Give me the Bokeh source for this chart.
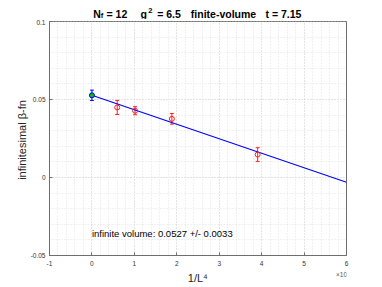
from bokeh.plotting import figure
from bokeh.layouts import column
from bokeh.models import (ColumnDataSource, Whisker, TeeHead, Label, LinearAxis,
                          Range1d, FixedTicker)
from bokeh.embed import file_html
from bokeh.resources import INLINE

# ---- data (x in units of 1e-7, i.e. 1/L^4 * 1e7) ----
fv_x = [0.596, 1.017, 1.884, 3.906]          # L = 64, 56, 48, 40
fv_beta = [0.0449, 0.0428, 0.0376, 0.0147]
fv_err = [0.0045, 0.0026, 0.0034, 0.0044]
inf_x = [0.0]
inf_beta = [0.0527]
inf_err = [0.0033]
fit_x = [0.0, 6.0]
fit_beta = [0.0527, -0.0030]
x_ticks = [-1, 0, 1, 2, 3, 4, 5, 6]
x_tick_labels = ["-1", "0", "1", "2", "3", "4", "5", "6"]
y_ticks = [-0.05, 0.0, 0.05, 0.1]
y_tick_labels = ["-0.05", "0", "0.05", "0.1"]
annot_text = "infinite volume: 0.0527 +/- 0.0033"
x_label = "1/L\u2074"
x_mult = "\u00d710\u207b\u2077"

FONT = "Liberation Sans"
W = 382
TH = 19          # title strip
BH = 19          # bottom strip (x label + multiplier)
H = 287 - TH - BH
FL, FR, FT, FB = 49, 36, 2, 13


def strip(height):
    s = figure(width=W, height=height, output_backend="svg",
               toolbar_location=None, x_range=Range1d(0, 1),
               y_range=Range1d(0, 1), min_border_left=FL, min_border_right=FR,
               min_border_top=0, min_border_bottom=0,
               x_axis_location=None, y_axis_location=None)
    s.title.visible = False
    s.outline_line_color = None
    s.xgrid.visible = False
    s.ygrid.visible = False
    return s


# ---------------- title strip (x relative to plot frame left) ----------------
t = strip(TH)
title_parts = [
    ("N", 43.7, 5.5, "10.5px"),
    ("f", 51.3, 4.0, "7.5px"),
    ("= 12", 57.0, 5.5, "10.5px"),
    ("g", 91.0, 5.5, "10.5px"),
    ("2", 98.7, 9.2, "7.5px"),
    ("= 6.5", 107.7, 5.5, "10.5px"),
    ("finite-volume", 141.3, 5.5, "10.5px"),
    ("t = 7.15", 216.0, 5.5, "10.5px"),
]
for txt, tx, ty, fs in title_parts:
    t.add_layout(Label(x=tx, y=ty, x_units="screen", y_units="screen",
                       text=txt, text_font=FONT, text_font_size=fs,
                       text_font_style="bold", text_color="black",
                       text_baseline="alphabetic", text_align="left"))

# ---------------- main plot ----------------
p = figure(width=W, height=H, output_backend="svg", toolbar_location=None,
           x_range=Range1d(-1, 6), y_range=Range1d(-0.05, 0.1),
           min_border_left=FL, min_border_right=FR, min_border_top=FT,
           min_border_bottom=FB, x_axis_location=None, y_axis_location=None)
p.title.visible = False
p.outline_line_color = "#6e6e6e"
p.background_fill_color = "white"

x_minor = [-1 + 0.2 * i for i in range(36)]
y_minor = [-0.05 + 0.01 * i for i in range(16)]
xt = FixedTicker(ticks=x_ticks, minor_ticks=x_minor)
yt = FixedTicker(ticks=y_ticks, minor_ticks=y_minor)

AX_COL = "#6e6e6e"
TICK_COL = "#333333"


def make_axis(ticker, labels, ticks):
    ax = LinearAxis(ticker=ticker)
    ax.axis_line_color = AX_COL
    ax.major_tick_line_color = AX_COL
    ax.major_tick_in = 3
    ax.major_tick_out = 0
    ax.minor_tick_line_color = None
    ax.major_label_overrides = {t: l for t, l in zip(ticks, labels)}
    ax.major_label_text_font = FONT
    ax.major_label_text_color = TICK_COL
    ax.major_label_text_font_size = "6.5px"
    ax.major_label_standoff = 0
    return ax


xb = make_axis(xt, x_tick_labels, x_ticks)
xb.major_label_standoff = 1
p.add_layout(xb, "below")

yl = make_axis(yt, y_tick_labels, y_ticks)
yl.axis_label = "infinitesimal  \u03b2-fn"
yl.axis_label_text_font = FONT
yl.axis_label_text_font_size = "11px"
yl.axis_label_text_font_style = "normal"
yl.axis_label_text_color = "#262626"
yl.axis_label_standoff = 0
p.add_layout(yl, "left")

# grids
p.xgrid.ticker = xt
p.ygrid.ticker = yt
for g in (p.xgrid[0], p.ygrid[0]):
    g.grid_line_color = "#d4d4d4"
    g.grid_line_dash = "1 2"
    g.minor_grid_line_color = "#e2e2e2"
    g.minor_grid_line_dash = "1 2"

# fit line
p.line(fit_x, fit_beta, line_color="#0000ff", line_width=1.1)

# finite-volume points
fv = ColumnDataSource(dict(x=fv_x, y=fv_beta,
                           lo=[b - e for b, e in zip(fv_beta, fv_err)],
                           hi=[b + e for b, e in zip(fv_beta, fv_err)]))
p.add_layout(Whisker(source=fv, base="x", lower="lo", upper="hi",
                     line_color="#ff2020", line_width=1,
                     lower_head=TeeHead(size=4, line_color="#ff2020"),
                     upper_head=TeeHead(size=4, line_color="#ff2020")))
p.scatter("x", "y", source=fv, size=5, marker="circle", fill_color=None,
          line_color="#ff2020", line_width=1)

# infinite-volume point
iv = ColumnDataSource(dict(x=inf_x, y=inf_beta,
                           lo=[b - e for b, e in zip(inf_beta, inf_err)],
                           hi=[b + e for b, e in zip(inf_beta, inf_err)]))
p.add_layout(Whisker(source=iv, base="x", lower="lo", upper="hi",
                     line_color="#0000ff", line_width=1,
                     lower_head=TeeHead(size=4, line_color="#0000ff"),
                     upper_head=TeeHead(size=4, line_color="#0000ff")))
p.scatter("x", "y", source=iv, size=5, marker="circle", fill_color="#00c000",
          line_color="#0000ff", line_width=1)

# annotation text in data coordinates
p.add_layout(Label(x=0.0, y=-0.0359, text=annot_text, text_font=FONT,
                   text_font_size="9.5px", text_color="black",
                   text_baseline="middle", text_align="left"))

# ---------------- bottom strip: x-axis label and multiplier ----------------
b = strip(BH)
b.add_layout(Label(x=148.3, y=10, x_units="screen", y_units="screen",
                   text=x_label, text_font=FONT, text_font_size="11px",
                   text_color="#262626", text_baseline="middle",
                   text_align="center"))
b.add_layout(Label(x=286.5, y=13, x_units="screen", y_units="screen",
                   text=x_mult, text_font=FONT, text_font_size="6.5px",
                   text_color="#555555", text_baseline="middle",
                   text_align="left"))

open("out.html", "w").write(file_html(column(t, p, b, spacing=0), INLINE))
